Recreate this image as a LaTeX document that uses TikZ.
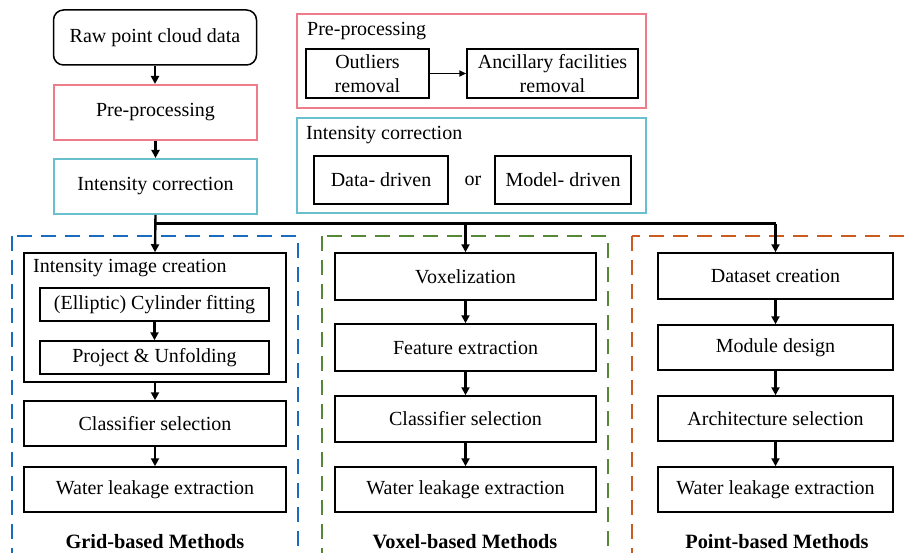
\documentclass[tikz,border=0pt]{standalone}
\usepackage{fontspec}
\setmainfont{Liberation Serif}
\usetikzlibrary{arrows.meta}
\definecolor{prepink}{RGB}{238,124,138}
\definecolor{corrcyan}{RGB}{104,192,206}
\definecolor{gridblue}{RGB}{24,108,190}
\definecolor{voxgreen}{RGB}{84,136,52}
\definecolor{ptorange}{RGB}{204,92,30}
\tikzset{
  txt/.style={font=\fontsize{20}{23.5}\selectfont},
  stepbox/.style={draw=black, line width=1.5pt, inner sep=0pt, align=center, txt},
  colbox/.style={draw=#1, line width=2pt, inner sep=0pt, align=center, txt},
  grouptitle/.style={anchor=west, inner sep=0pt, txt},
  methodlabel/.style={inner sep=0pt, font=\fontsize{20.3}{24}\selectfont\bfseries},
  columnframe/.style={draw=#1, line width=2.8pt, dash pattern=on 15pt off 9pt},
  arr/.style={line width=2.4pt, -{Triangle[length=8pt,width=8pt]}},
  thinarr/.style={line width=1.7pt, -{Triangle[length=7pt,width=6pt]}},
  trunk/.style={line width=3pt}
}
\begin{document}
\begin{tikzpicture}[x=1pt, y=-1pt]
\useasboundingbox (0,0) rectangle (909,553);
\clip (0,0) rectangle (909,553);

% main chain
\node[stepbox, rounded corners=10pt, minimum width=203pt, minimum height=55pt] (raw) at (155,37.5) {Raw point cloud data};
\node[colbox=prepink, minimum width=203pt, minimum height=55pt] (pre) at (155.5,112.5) {Pre-processing};
\node[colbox=corrcyan, minimum width=203pt, minimum height=55pt] (ic) at (155.5,186.5) {Intensity correction};
\draw[arr] (raw) -- (raw |- pre.north);
\draw[arr] (pre) -- (pre |- ic.north);

% pre-processing detail
\node[colbox=prepink, minimum width=349pt, minimum height=94pt] (preout) at (471.5,61) {};
\node[grouptitle] (pretitle) at (307,31) {Pre-processing};
\node[stepbox, minimum width=123pt, minimum height=49pt] (outl) at (367.5,73.5) {Outliers\\removal};
\node[stepbox, minimum width=171pt, minimum height=49pt] (anc) at (552.5,73.5) {Ancillary facilities\\removal};
\draw[thinarr] (outl) -- (anc);

% intensity correction detail
\node[colbox=corrcyan, minimum width=349pt, minimum height=95pt] (icout) at (471.5,165.5) {};
\node[grouptitle] (ictitle) at (306,135) {Intensity correction};
\node[stepbox, minimum width=134pt, minimum height=48pt] (dd) at (381,180) {Data- driven};
\node[txt, inner sep=0pt] (or) at (473,181) {or};
\node[stepbox, minimum width=136pt, minimum height=48pt] (md) at (563,180) {Model- driven};

% column frames
\draw[columnframe=gridblue] (12,236) rectangle (298,620);
\draw[columnframe=voxgreen] (322,236) rectangle (608,620);
\draw[columnframe=ptorange] (632,236) rectangle (960,620);

% grid-based column
\node[stepbox, minimum width=262pt, minimum height=129pt] (iic) at (155,317.5) {};
\node[grouptitle] (iictitle) at (33,268) {Intensity image creation};
\node[stepbox, minimum width=229pt, minimum height=33pt] (cyl) at (154.5,304.5) {(Elliptic) Cylinder fitting};
\node[stepbox, minimum width=229pt, minimum height=33pt] (proj) at (154.5,357.5) {Project \& Unfolding};
\node[stepbox, minimum width=262pt, minimum height=45pt] (cls1) at (155,423.5) {Classifier selection};
\node[stepbox, minimum width=262pt, minimum height=45pt] (wl1) at (155,489.5) {Water leakage extraction};
\node[methodlabel] (gridlbl) at (155,542) {Grid-based Methods};
\draw[arr] (cyl) -- (proj);
\draw[arr] (iic.south) -- (cls1);
\draw[arr] (cls1) -- (wl1);

% voxel-based column
\node[stepbox, minimum width=261pt, minimum height=47pt] (vox) at (465.5,276.5) {Voxelization};
\node[stepbox, minimum width=261pt, minimum height=47pt] (feat) at (465.5,347.5) {Feature extraction};
\node[stepbox, minimum width=261pt, minimum height=46pt] (cls2) at (465.5,419) {Classifier selection};
\node[stepbox, minimum width=261pt, minimum height=45pt] (wl2) at (465.5,489.5) {Water leakage extraction};
\node[methodlabel] (voxlbl) at (465,542) {Voxel-based Methods};
\draw[arr] (vox) -- (feat);
\draw[arr] (feat) -- (cls2);
\draw[arr] (cls2) -- (wl2);

% point-based column
\node[stepbox, minimum width=235pt, minimum height=46pt] (ds) at (775.5,276) {Dataset creation};
\node[stepbox, minimum width=235pt, minimum height=45pt] (mod) at (775.5,347.5) {Module design};
\node[stepbox, minimum width=235pt, minimum height=45pt] (arch) at (775.5,418.5) {Architecture selection};
\node[stepbox, minimum width=235pt, minimum height=45pt] (wl3) at (775.5,489.5) {Water leakage extraction};
\node[methodlabel] (ptlbl) at (777,542) {Point-based Methods};
\draw[arr] (ds) -- (mod);
\draw[arr] (mod) -- (arch);
\draw[arr] (arch) -- (wl3);

% branching trunk
\coordinate (jl) at (155.5,224);
\coordinate (jm) at (465.5,224);
\coordinate (jr) at (775.5,224);
\draw[trunk] (jl) -- (jr);
\draw[arr] (ic.south) -- (iic.north);
\draw[arr] (jm) -- (vox.north);
\draw[arr] (jr) -- (ds.north);
\end{tikzpicture}
\end{document}
